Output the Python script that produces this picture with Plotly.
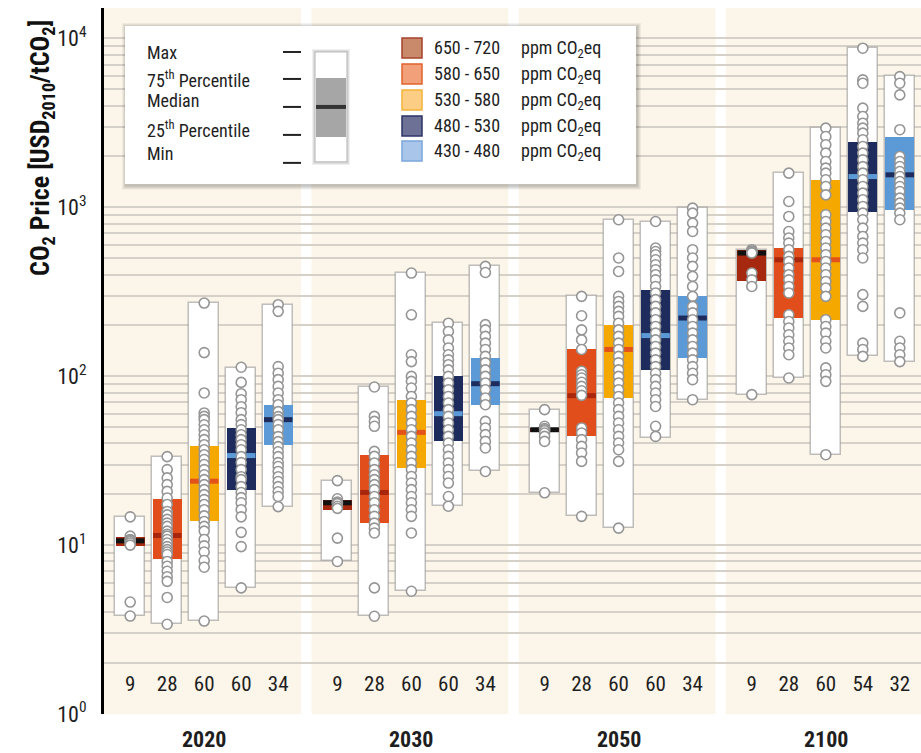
import plotly.graph_objects as go

# ---------------- data ----------------
years = ["2020", "2030", "2050", "2100"]
categories = ["650 - 720", "580 - 650", "530 - 580", "480 - 530", "430 - 480"]
counts = [[9, 28, 60, 60, 34], [9, 28, 60, 60, 34], [9, 28, 60, 60, 34], [9, 28, 60, 54, 32]]

max_vals = [[14.7, 33.4, 271, 112, 265], [24.1, 86.3, 408, 206, 447],
            [63.4, 297, 844, 824, 989], [561, 1593, 2943, 8750, 5960]]
q3_vals = [[11.2, 18.8, 38.8, 49.4, 67.8], [18.6, 34.3, 72.6, 99.7, 128],
           [49.5, 144, 202, 325, 297], [555, 574, 1455, 2450, 2624]]
med_vals = [[10.6, 11.4, 23.9, 33.9, 55.3], [17.8, 20.5, 46.5, 60, 90.3],
            [48.2, 76.7, 144, 174, 221], [536, 489, 489, 1521, 1557]]
q1_vals = [[9.9, 8.3, 13.8, 21.3, 39.3], [16.2, 13.5, 28.6, 41.1, 67.8],
           [47.0, 44, 74.3, 109, 128], [364, 221, 216, 944, 967]]
min_vals = [[3.8, 3.4, 3.55, 5.6, 16.9], [8.0, 3.79, 5.33, 17.0, 27.3],
            [20.4, 14.8, 12.6, 43.1, 72.6], [77.8, 97.6, 34.3, 131, 122]]

points_2020 = [
    [14.7, 11.3, 10.8, 10.7, 10.5, 10.3, 10.0, 4.6, 3.8],
    [33.4, 28.0, 25.0, 22.8, 20.8, 19.0, 17.4, 15.8, 15.1, 14.2, 13.5, 12.9, 12.1, 11.6, 11.3, 10.8,
     10.3, 9.8, 9.4, 9.1, 8.8, 8.0, 7.5, 7.0, 6.5, 6.1, 4.9, 3.4],
    [271, 138, 79.6, 60.6, 57.8, 55.3, 51.6, 48.2, 45.0, 42.1, 39.3, 36.7, 34.3, 32.1, 30.0, 28.0, 26.1,
     24.4, 22.8, 21.3, 19.9, 18.6, 17.4, 16.2, 14.9, 13.8, 12.9, 12.1, 10.8, 9.9, 9.1, 8.1, 7.4, 3.55],
    [113, 91.9, 78.8, 72.6, 66.0, 60.8, 55.3, 51.7, 48.2, 45.0, 42.1, 39.3, 36.7, 33.4, 30.8, 28.0, 25.4,
     24.4, 22.2, 20.5, 19.1, 17.8, 16.2, 14.7, 11.9, 9.8, 5.58],
    [265, 242, 114, 104, 95.4, 87.0, 79.5, 72.6, 67.8, 61.7, 57.6, 55.3, 51.7, 48.2, 43.9, 41.0, 38.3,
     35.7, 33.4, 30.8, 29.2, 27.3, 25.4, 23.8, 22.2, 20.7, 19.4, 16.9],
]
points_2030 = [
    [24.1, 18.8, 18.0, 17.8, 17.6, 17.0, 16.5, 11.0, 8.0],
    [86.3, 57.8, 54.0, 50.5, 35.9, 33.5, 30.6, 28.0, 26.1, 24.4, 22.8, 21.3, 19.4, 17.8, 16.2, 14.8,
     13.5, 12.6, 11.8, 5.58, 3.79],
    [408, 231, 134, 122, 99.7, 93.2, 85.1, 75.9, 69.4, 63.4, 57.8, 52.8, 48.2, 44.0, 40.2, 36.7, 33.5,
     30.6, 28.0, 25.5, 23.3, 21.3, 19.4, 17.8, 16.2, 14.8, 11.8, 5.33],
    [206, 184, 164, 147, 134, 125, 117, 109, 99.7, 91.2, 83.2, 75.9, 69.4, 63.4, 57.8, 52.8, 48.2, 44.0,
     40.2, 36.7, 33.5, 30.6, 28.0, 25.5, 23.3, 19.4, 17.0],
    [447, 411, 202, 188, 172, 157, 144, 131, 120, 109, 99.7, 91.2, 83.2, 74.3, 67.8, 54.0, 49.4, 45.1,
     41.1, 37.6, 27.3],
]
points_2050 = [
    [63.4, 50.5, 49.0, 48.2, 47.5, 46.1, 44.0, 41.1, 20.4],
    [297, 228, 188, 164, 144, 107, 102, 97.6, 92.0, 87.0, 82.0, 77.0, 49.4, 46.1, 42.1, 38.4, 35.1,
     31.3, 14.8],
    [844, 501, 417, 297, 277, 259, 242, 226, 206, 188, 172, 157, 144, 131, 120, 109, 99.7, 91.2, 83.2,
     75.9, 69.4, 63.4, 57.8, 52.8, 48.2, 44.0, 40.2, 36.7, 31.3, 12.6],
    [824, 574, 547, 524, 489, 457, 427, 399, 372, 340, 311, 284, 259, 237, 216, 197, 180, 164, 150,
     137, 125, 114, 104, 95.4, 87.0, 79.5, 72.6, 66.2, 50.5, 44.0],
    [989, 924, 806, 719, 561, 501, 447, 390, 340, 297, 259, 237, 216, 197, 180, 164, 150, 137, 125,
     114, 104, 95.4, 72.6],
]
points_2100 = [
    [561, 550, 545, 540, 536, 408, 372, 340, 77.8],
    [1593, 1082, 883, 719, 658, 614, 561, 512, 478, 437, 399, 372, 340, 311, 231, 211, 193, 176, 161,
     147, 134, 97.6],
    [2943, 2624, 2344, 2093, 1867, 1706, 1593, 1455, 1327, 1185, 903, 824, 753, 688, 628, 574, 524,
     478, 437, 399, 364, 333, 297, 216, 197, 180, 161, 147, 112, 102, 93.2, 34.3],
    [8750, 5680, 5430, 3865, 3445, 3148, 2943, 2748, 2510, 2290, 2093, 1910, 1741, 1593, 1455, 1327,
     1213, 1108, 1011, 924, 844, 753, 672, 614, 561, 501, 304, 259, 157, 144, 131],
    [5940, 5430, 4630, 2880, 1999, 1867, 1743, 1629, 1521, 1421, 1327, 1240, 1133, 1059, 989, 924,
     844, 237, 161, 147, 134, 122],
]
points_all = [points_2020, points_2030, points_2050, points_2100]

iqr_colors = ["#a6290f", "#e24e1b", "#f5a800", "#1d2c5c", "#5b9ad6"]
median_colors = ["#111111", "#a8260c", "#e3521a", "#5b9ad6", "#1d2c5c"]
swatch_fill = ["#c98a6c", "#f2a07a", "#fccd85", "#6e7196", "#a9c5ea"]
swatch_line = ["#a5432a", "#e0622d", "#f2b23a", "#2b3366", "#7aa6dc"]

# ---------------- layout geometry ----------------
W, H = 921, 753
ML, MR, MT, MB = 104, 0, 8, 38.5
PW, PH = W - ML - MR, H - MT - MB
UNIT = 37.0
PANEL_PITCH = 5.6
X0 = -26.2 / UNIT
X1 = X0 + PW / UNIT
Y_TOP = 4.18
BOX_W = 0.81
FONT = "Liberation Sans Narrow, Roboto Condensed, DejaVu Sans Condensed, Arial Narrow, sans-serif"
PANEL_BG = "#fcf5e9"
GRID = "#d6d1c8"
TXT = "#1e1e1e"


def fx(px):
    return (px - ML) / PW


def fy(py):
    return (H - MB - py) / PH


fig = go.Figure()

bx, bbase, bh, qbase, qh, qcol = [], [], [], [], [], []
px_, py_ = [], []
cx, cy, ct = [], [], []
for p in range(len(years)):
    for b in range(len(categories)):
        x = p * PANEL_PITCH + b
        bx.append(x)
        bbase.append(min_vals[p][b])
        bh.append(max_vals[p][b] - min_vals[p][b])
        qbase.append(q1_vals[p][b])
        qh.append(q3_vals[p][b] - q1_vals[p][b])
        qcol.append(iqr_colors[b])
        for v in points_all[p][b]:
            px_.append(x)
            py_.append(v)
        cx.append(x)
        cy.append(1.47)
        ct.append(str(counts[p][b]))

fig.add_trace(go.Bar(x=bx, y=bh, base=bbase, width=BOX_W, marker=dict(color="white",
              line=dict(color="rgba(140,140,140,0.55)", width=1.5)), hoverinfo="skip"))
fig.add_trace(go.Bar(x=bx, y=qh, base=qbase, width=BOX_W - 0.03, marker=dict(color=qcol, line=dict(width=0)),
                     hoverinfo="skip"))

for b in range(len(categories)):
    xs, ys = [], []
    for p in range(len(years)):
        x = p * PANEL_PITCH + b
        xs += [x - BOX_W / 2 + 0.02, x + BOX_W / 2 - 0.02, None]
        ys += [med_vals[p][b], med_vals[p][b], None]
    fig.add_trace(go.Scatter(x=xs, y=ys, mode="lines", line=dict(color=median_colors[b], width=5),
                             hoverinfo="skip"))

fig.add_trace(go.Scatter(x=px_, y=py_, mode="markers",
                         marker=dict(symbol="circle", size=10, color="white",
                                     line=dict(color="#959595", width=1.6)), hoverinfo="skip"))

fig.add_trace(go.Scatter(x=cx, y=cy, mode="text", text=ct,
                         textfont=dict(family=FONT, size=21, color=TXT), hoverinfo="skip"))

shapes = []
# white gaps between panels (cover gridlines)
for p in range(len(years) - 1):
    shapes.append(dict(type="rect", xref="x", yref="paper", x0=p * PANEL_PITCH + 4.62,
                       x1=(p + 1) * PANEL_PITCH - 0.70, y0=0, y1=1, fillcolor="white",
                       line=dict(width=0), layer="between"))

# legend box shadow + box
LX0, LX1, LY0, LY1 = 125, 636, 26, 184
for i, a in enumerate([0.05, 0.05, 0.06, 0.07]):
    d = 4 - i
    shapes.append(dict(type="rect", xref="paper", yref="paper", x0=fx(LX0 - d + 1), x1=fx(LX1 + d + 1),
                       y0=fy(LY1 + d + 2), y1=fy(LY0 - d + 1), fillcolor=f"rgba(0,0,0,{a})",
                       line=dict(width=0), layer="above"))
shapes.append(dict(type="rect", xref="paper", yref="paper", x0=fx(LX0), x1=fx(LX1), y0=fy(LY1), y1=fy(LY0),
                   fillcolor="white", line=dict(width=0), layer="above"))
# sample box
for i, a in enumerate([0.06, 0.08]):
    d = 3 - i
    shapes.append(dict(type="rect", xref="paper", yref="paper", x0=fx(315 - d), x1=fx(347 + d),
                       y0=fy(162 + d), y1=fy(52 - d), fillcolor=f"rgba(0,0,0,{a})",
                       line=dict(width=0), layer="above"))
shapes.append(dict(type="rect", xref="paper", yref="paper", x0=fx(315), x1=fx(347), y0=fy(162), y1=fy(52),
                   fillcolor="white", line=dict(color="#bdbdbd", width=1.2), layer="above"))
shapes.append(dict(type="rect", xref="paper", yref="paper", x0=fx(316), x1=fx(346), y0=fy(137), y1=fy(78),
                   fillcolor="#a6a6a6", line=dict(width=0), layer="above"))
shapes.append(dict(type="line", xref="paper", yref="paper", x0=fx(316), x1=fx(346), y0=fy(107), y1=fy(107),
                   line=dict(color="#333333", width=4), layer="above"))
for yy in [52, 79, 107, 135, 163]:
    shapes.append(dict(type="line", xref="paper", yref="paper", x0=fx(283), x1=fx(301), y0=fy(yy), y1=fy(yy),
                       line=dict(color="#222222", width=2), layer="above"))
sw_y = [48, 74, 100, 126, 151]
for i in range(len(categories)):
    shapes.append(dict(type="rect", xref="paper", yref="paper", x0=fx(402), x1=fx(422),
                       y0=fy(sw_y[i] + 10), y1=fy(sw_y[i] - 10), fillcolor=swatch_fill[i],
                       line=dict(color=swatch_line[i], width=1.5), layer="above"))

ann = []
left_labels = ["Max", "75<sup>th</sup> Percentile", "Median", "25<sup>th</sup> Percentile", "Min"]
left_y = [53, 79, 101, 129, 154]
for t, yy in zip(left_labels, left_y):
    ann.append(dict(xref="paper", yref="paper", x=fx(145), y=fy(yy), text=t, showarrow=False,
                    xanchor="left", yanchor="middle", font=dict(family=FONT, size=18, color=TXT)))
for i, c in enumerate(categories):
    ann.append(dict(xref="paper", yref="paper", x=fx(432), y=fy(sw_y[i]), text=c, showarrow=False,
                    xanchor="left", yanchor="middle", font=dict(family=FONT, size=18, color=TXT)))
    ann.append(dict(xref="paper", yref="paper", x=fx(519), y=fy(sw_y[i] + 1), text="ppm CO<sub>2</sub>eq",
                    showarrow=False, xanchor="left", yanchor="middle",
                    font=dict(family=FONT, size=18, color=TXT)))
for p, yr in enumerate(years):
    ann.append(dict(xref="x", yref="paper", x=p * PANEL_PITCH + 2, y=fy(740), text="<b>" + yr + "</b>",
                    showarrow=False, xanchor="center", yanchor="middle",
                    font=dict(family=FONT, size=22, color=TXT)))
ann.append(dict(xref="paper", yref="paper", x=fx(42), y=fy(148), textangle=-90,
                text="<b>CO<sub>2</sub> Price [USD<sub>2010</sub>/tCO<sub>2</sub>]</b>", showarrow=False,
                xanchor="center", yanchor="middle", font=dict(family=FONT, size=26, color="#111111")))

tickvals = [1, 10, 100, 1000, 10000]
ticktext = ["10<sup>0</sup>", "10<sup>1</sup>", "10<sup>2</sup>", "10<sup>3</sup>", "10<sup>4</sup>"]
minor_vals = [k * 10 ** d for d in range(4) for k in range(2, 10)]

fig.update_layout(
    width=W, height=H, margin=dict(l=ML, r=MR, t=MT, b=MB),
    paper_bgcolor="white", plot_bgcolor=PANEL_BG, showlegend=False, barmode="overlay", bargap=0,
    shapes=shapes, annotations=ann,
    xaxis=dict(range=[X0, X1], showgrid=False, zeroline=False, showticklabels=False, showline=False,
               fixedrange=True),
    yaxis=dict(type="log", range=[0, Y_TOP], tickvals=tickvals, ticktext=ticktext, showgrid=True,
               gridcolor=GRID, gridwidth=1.5, zeroline=False, showline=True, linecolor="black", linewidth=3,
               ticks="", ticklabelstandoff=10, tickfont=dict(family=FONT, size=22, color=TXT),
               minor=dict(tickvals=minor_vals, showgrid=True, gridcolor=GRID, gridwidth=1.5, ticks=""),
               fixedrange=True),
)

fig.write_html("out.html")
